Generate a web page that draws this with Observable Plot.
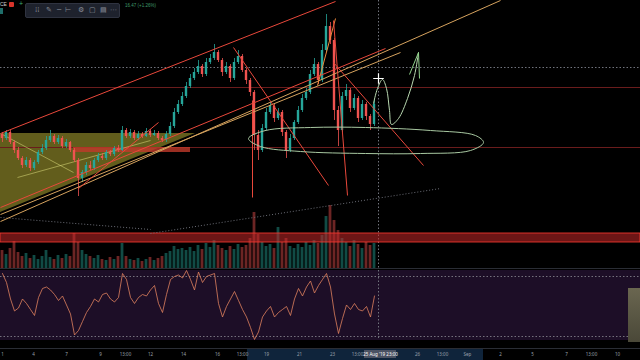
<!DOCTYPE html>
<html><head><meta charset="utf-8">
<script src="https://cdn.jsdelivr.net/npm/d3@7"></script>
<script src="https://cdn.jsdelivr.net/npm/@observablehq/plot@0.6"></script>
<style>
html,body{margin:0;padding:0;background:#000;}
#chart{position:relative;width:640px;height:360px;overflow:hidden;background:#000;font-family:"Liberation Sans",Arial,sans-serif;}
#chart svg{position:absolute;left:0;}
.tb{position:absolute;left:25px;top:3px;width:93px;height:13px;background:#1e222d;border:1px solid #2f3340;border-radius:2px;color:#8a8e99;font-size:7px;line-height:13px;font-family:"DejaVu Sans",sans-serif;}
.tb span{position:absolute;top:0;}
.sep{position:absolute;left:0;width:640px;height:1px;background:#2a2d35;}
</style></head><body><div id="chart"></div>
<script>
// ---- price data (4h candles) ----
const firstOpen = 10660;
const closes = [
10620,10680,10580,10500,10420,10350,10400,10320,10380,10480,
10520,10600,10640,10580,10620,10540,10580,10500,10400,10220,
10280,10350,10320,10400,10440,10420,10480,10460,10520,10500,
10700,10640,10680,10620,10660,10640,10690,10650,10670,10620,
10600,10660,10740,10880,10960,11040,11140,11220,11280,11340,
11260,11380,11420,11480,11400,11280,11340,11220,11380,11440,
11300,11200,11080,10650,10500,10720,10880,10940,10820,10880,
10680,10500,10620,10780,10900,11020,11080,11260,11360,11200,
11500,11740,11600,10900,10700,11040,11100,10920,11020,10820,
10960,10840,10760,10960];
const highs = [
10680,10700,10700,10600,10530,10440,10430,10420,10400,10500,
10560,10640,10700,10660,10650,10640,10610,10590,10520,10420,
10300,10380,10390,10420,10470,10470,10500,10500,10540,10550,
10740,10720,10710,10700,10690,10680,10720,10710,10700,10690,
10640,10690,10780,10920,11000,11080,11180,11260,11320,11400,
11360,11420,11460,11560,11500,11420,11380,11360,11420,11500,
11460,11320,11220,11100,10700,10760,10920,10980,10960,10920,
10900,10700,10660,10800,10940,11060,11120,11300,11420,11380,
11560,11860,11780,11620,10940,11080,11160,11120,11060,11040,
11000,10980,10860,11000];
const lows = [
10580,10600,10560,10470,10400,10320,10330,10290,10300,10360,
10460,10500,10580,10560,10560,10520,10520,10480,10380,10040,
10180,10250,10300,10300,10380,10400,10400,10440,10440,10480,
10490,10620,10620,10600,10600,10620,10630,10630,10640,10600,
10580,10580,10640,10720,10860,10940,11020,11120,11200,11260,
11230,11240,11360,11400,11380,11240,11260,11180,11200,11360,
11280,11160,11040,10500,10400,10480,10700,10860,10780,10800,
10640,10420,10480,10600,10760,10880,11000,11060,11240,11160,
11180,11480,11560,10800,10540,10680,11000,10880,10900,10780,
10800,10800,10700,10740];
const volumes = [
180,140,200,270,160,120,150,100,130,90,
120,180,110,90,130,100,140,120,350,260,
180,140,120,100,130,90,80,110,90,120,
250,120,90,80,100,70,90,110,80,100,
120,150,170,220,190,200,180,210,170,230,
190,250,210,280,230,200,180,220,190,240,
210,230,300,560,340,260,220,240,200,410,
260,300,220,200,240,210,260,230,280,250,
330,520,630,480,380,300,260,220,280,240,
200,260,230,250];
const rsiValues = [
72,66,55,47,49,55,52,48,44,56,
62,63,61,58,54,57,51,45,31,34,
40,46,50,55,53,58,59,55,53,56,
72,68,56,52,56,58,57,61,64,52,
46,58,68,70,71,69,74,68,61,73,
66,70,71,72,52,43,50,55,60,54,
48,43,36,28,33,43,47,50,43,46,
48,50,44,55,62,57,63,67,59,64,
68,72,63,45,32,42,51,48,52,48,
47,50,43,57];
const rsiLevels = [70, 30];

// ---- time axis ----
const tickIndex = [0,7.75,16,24.5,30.75,37,45.25,53.75,60,66,74.25,82.5,88.75,103.75,110,116.25,124.5,132.5,141,147.25,153.75];
const tickLabels = ["1","4","7","9","13:00","12","14","16","13:00","19","21","23","13:00","26","13:00","Sep","2","5","7","13:00","10"];
const selectedRange = [[61.25, 120.25]];
const cursorIndex = 94;
const cursorLabel = "25 Aug '19 23:00";
const cursorPrice = 11220;

// ---- drawings: [index1, price1, index2, price2] ----
const redLines = [[-0.5,10670,83.25,11990],[-0.5,9930,95.75,11520],[19,10120,39,10780],[57.75,11530,81.5,10150],[82.75,11380,105.25,10350],[82.75,11800,86.25,10050],[62.5,11000,62.5,10030]];
const orangeLines = [[78.75,11150,83.25,11820]];
const tanLines = [[-0.5,9790,124.5,12000],[-0.5,9860,99.5,11480]];
const yellowLines = [[0,10660,17.75,10280],[3.75,10230,37,10600]];
const dottedLines = [[-0.5,9830,37,9710],[37,9670,109.5,10120]];
const dottedLevels = [11330];
const redLevels = [11130, 10530];
const redZone = [[9580, 9670]];
const redBox = [[17.75, 47, 10480, 10530]];
const triangleIdx = [-0.5, 48.25];
const triangleLow = [9880, 10670];
const triangleHigh = [10670, 10670];
const ellipseIdx = [61.5,65.75,77,90.75,107,118.25,120.25,117,104.5,90.75,74.5,64.5];
const ellipsePrice = [10620,10700,10730,10730,10700,10650,10580,10500,10470,10470,10490,10540];
const arcIdx = [92.75,93.75,95,96,96.75,97.25,99,101.25,103,104];
const arcPrice = [10970,11120,11210,11120,10900,10760,10820,11020,11250,11480];
const arrowHead = [[104,11480,101.75,11260],[104,11480,104.25,11220]];

// ---- build tables ----
const candles = closes.map((c, i) => ({i, open: i ? closes[i-1] : firstOpen, close: c, high: highs[i], low: lows[i], volume: volumes[i], rsi: rsiValues[i]}));
const up = candles.filter(d => d.close >= d.open);
const down = candles.filter(d => d.close < d.open);
const seg = a => a.map(([x1,y1,x2,y2]) => ({x1,y1,x2,y2}));
const tri = triangleIdx.map((x,k)=>({x, y1: triangleLow[k], y2: triangleHigh[k]}));
const ell = ellipseIdx.map((x,k)=>({x, y: ellipsePrice[k]}));
const arc = arcIdx.map((x,k)=>({x, y: arcPrice[k]}));
const ticks = tickIndex.map((x,k)=>({x, label: tickLabels[k]}));

const GREEN = "#26a69a", RED = "#ef5350";
const xDomain = [-0.5, 159.5];
const chart = document.getElementById("chart");
function place(svg, top){ svg.style.top = top + "px"; chart.appendChild(svg); }

// volume pane (overlay at bottom of price pane)
place(Plot.plot({
  width: 640, height: 70, margin: 0,
  x: {domain: xDomain, axis: null}, y: {domain: [0, 700], axis: null},
  style: {background: "transparent"},
  marks: [
    Plot.rect(up, {x1: d => d.i - 0.35, x2: d => d.i + 0.35, y1: 0, y2: "volume", fill: GREEN, fillOpacity: 0.45}),
    Plot.rect(down, {x1: d => d.i - 0.35, x2: d => d.i + 0.35, y1: 0, y2: "volume", fill: RED, fillOpacity: 0.45})
  ]
}), 198);

// price pane
place(Plot.plot({
  width: 640, height: 268, margin: 0,
  x: {domain: xDomain, axis: null}, y: {domain: [9320, 12000], axis: null},
  style: {background: "transparent"},
  marks: [
    Plot.areaY(tri, {x: "x", y1: "y1", y2: "y2", fill: "#b3aa33", fillOpacity: 0.55}),
    Plot.ruleY(redLevels, {stroke: "#6a1c1c", strokeWidth: 1}),
    Plot.ruleY(dottedLevels, {stroke: "#70737c", strokeDasharray: "1.5,2"}),
    Plot.ruleX([cursorIndex], {stroke: "#70737c", strokeDasharray: "1.5,2"}),
    Plot.rect(redBox.map(([a,b,c,d])=>({a,b,c,d})), {x1: "a", x2: "b", y1: "c", y2: "d", fill: "#c0392b", fillOpacity: 0.8}),
    Plot.rect(redZone.map(([a,b])=>({a,b})), {x1: xDomain[0], x2: xDomain[1], y1: "a", y2: "b", fill: "#c62828", fillOpacity: 0.55, stroke: "#ff3b30", strokeWidth: 0.8}),
    Plot.link(seg(dottedLines), {x1:"x1",y1:"y1",x2:"x2",y2:"y2", stroke: "#6d6f78", strokeDasharray: "1,2"}),
    Plot.link(seg(yellowLines), {x1:"x1",y1:"y1",x2:"x2",y2:"y2", stroke: "#d8d878", strokeOpacity: 0.7, strokeWidth: 0.8}),
    Plot.ruleX(candles, {x: "i", y1: "low", y2: "high", stroke: d => d.close >= d.open ? GREEN : RED, strokeWidth: 0.8}),
    Plot.rect(up, {x1: d => d.i - 0.3, x2: d => d.i + 0.3, y1: "open", y2: "close", fill: GREEN}),
    Plot.rect(down, {x1: d => d.i - 0.3, x2: d => d.i + 0.3, y1: "open", y2: "close", fill: RED}),
    Plot.link(seg(tanLines), {x1:"x1",y1:"y1",x2:"x2",y2:"y2", stroke: "#d6a35e", strokeWidth: 1}),
    Plot.link(seg(orangeLines), {x1:"x1",y1:"y1",x2:"x2",y2:"y2", stroke: "#f08a3c", strokeWidth: 1}),
    Plot.link(seg(redLines), {x1:"x1",y1:"y1",x2:"x2",y2:"y2", stroke: "#e9483b", strokeWidth: 1}),
    Plot.line(ell, {x: "x", y: "y", curve: "catmull-rom-closed", stroke: "#a9c9a2", strokeWidth: 1}),
    Plot.line(arc, {x: "x", y: "y", curve: "catmull-rom", stroke: "#b8d8b0", strokeWidth: 1}),
    Plot.link(seg(arrowHead), {x1:"x1",y1:"y1",x2:"x2",y2:"y2", stroke: "#8fd08a", strokeWidth: 1}),
    Plot.dot([{x: cursorIndex, y: cursorPrice}], {x: "x", y: "y", symbol: "plus", r: 3.5, stroke: "#ffffff", strokeWidth: 1.2})
  ]
}), 0);

// RSI pane
place(Plot.plot({
  width: 640, height: 70, margin: 0,
  x: {domain: xDomain, axis: null}, y: {domain: [27.33, 74], axis: null},
  style: {background: "#1d0e27"},
  marks: [
    Plot.ruleY(rsiLevels, {stroke: "#77737f", strokeDasharray: "1.5,2"}),
    Plot.ruleX([cursorIndex], {stroke: "#70737c", strokeDasharray: "1.5,2"}),
    Plot.line(candles, {x: "i", y: "rsi", stroke: "#e0825e", strokeWidth: 0.8})
  ]
}), 270);

// time axis
place(Plot.plot({
  width: 640, height: 12, margin: 0,
  x: {domain: xDomain, axis: null},
  style: {background: "transparent"},
  marks: [
    Plot.rect(selectedRange.map(([a,b])=>({a,b})), {x1: "a", x2: "b", fill: "#0f243b"}),
    Plot.text(ticks, {x: "x", text: "label", fill: "#9aa0ab", fontSize: 4.5, frameAnchor: "middle"}),
    Plot.rect([{x: cursorIndex + 0.5}], {x1: d => d.x - 4, x2: d => d.x + 4, fill: "#4b5263", insetTop: 2, insetBottom: 2}),
    Plot.text([{x: cursorIndex + 0.5, t: cursorLabel}], {x: "x", text: "t", fill: "#ffffff", fontSize: 4.5, frameAnchor: "middle"})
  ]
}), 348);

// separators
[268, 348].forEach(t => { const d = document.createElement("div"); d.className = "sep"; d.style.top = t + "px"; chart.appendChild(d); });

// right-edge scrollbar artefact
const art = document.createElement("div");
art.style.cssText = "position:absolute;left:628px;top:288px;width:12px;height:54px;background:linear-gradient(#6a6650,#4a4838);";
chart.appendChild(art);

// header: ticker marks + toolbar + change
const hdr = document.createElement("div");
hdr.innerHTML =
  '<div style="position:absolute;left:0;top:1px;color:#d0d0d0;font-size:5px;">CE</div>' +
  '<div style="position:absolute;left:9px;top:2px;width:5px;height:5px;background:#d9342b;border-radius:1px;"></div>' +
  '<div style="position:absolute;left:19px;top:0px;color:#3fae72;font-size:7px;">+</div>' +
  '<div style="position:absolute;left:0;top:8px;width:3px;height:6px;background:#1f6e6a;"></div>' +
  '<div class="tb"><span style="left:9px">⁞⁞</span><span style="left:20px">✎</span><span style="left:31px">─</span><span style="left:39px">⊢</span><span style="left:52px">⚙</span><span style="left:63px">▢</span><span style="left:74px">▤</span><span style="left:84px">⋯</span></div>' +
  '<div style="position:absolute;left:125px;top:3px;color:#3f9a6a;font-size:4.5px;">16.47 (+1.26%)</div>';
chart.appendChild(hdr);
</script>
</body></html>
